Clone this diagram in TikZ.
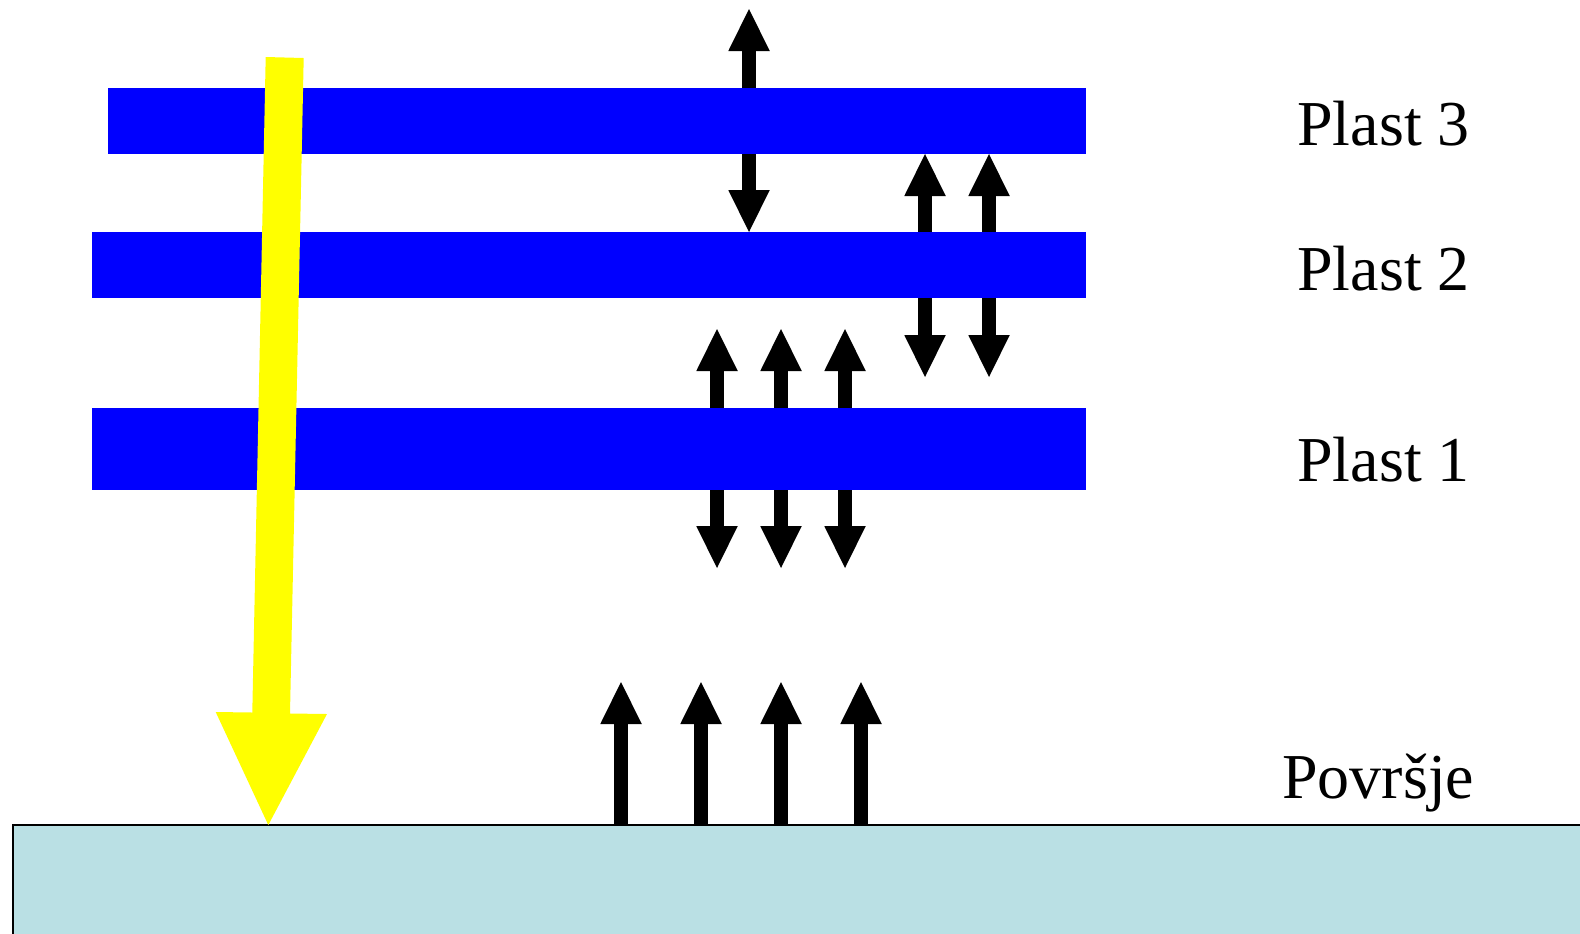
\documentclass[tikz,border=0pt]{standalone}
\usepackage{fontspec}
\setmainfont{Liberation Serif}
\usetikzlibrary{arrows.meta}
\definecolor{bandblue}{RGB}{0,0,255}
\definecolor{groundcol}{RGB}{186,224,228}
\definecolor{rayyellow}{RGB}{255,255,0}
\tikzset{
  band/.style={fill=bandblue, draw=none, inner sep=0pt, outer sep=0pt, anchor=north west},
  ground/.style={fill=groundcol, draw=black, line width=1.25pt, inner sep=0pt, outer sep=0pt, anchor=north west},
  flux/.style={line width=7pt, -{Triangle[length=21pt, width=20.75pt, line width=0pt]}},
  lbl/.style={inner sep=0pt, anchor=base west, font=\fontsize{32pt}{38pt}\selectfont}
}
\begin{document}
\begin{tikzpicture}[x=0.5pt, y=-0.5pt]
\useasboundingbox (0,0) rectangle (1580,933);
\clip (0,0) rectangle (1580,933);

% ground
\node[ground, minimum width=800pt, minimum height=80pt] (surf) at (13,825) {};

% atmospheric layers
\node[band, minimum width=489pt, minimum height=33pt] (b3) at (108,88) {};
\node[band, minimum width=497pt, minimum height=33pt] (b2) at (92,232) {};
\node[band, minimum width=497pt, minimum height=41pt] (b1) at (92,408) {};

% emission from layer 3
\draw[flux] (b3.north -| 749,0) -- ++(0,-79);
\draw[flux] (b3.south -| 749,0) -- (b2.north -| 749,0);

% emission from layer 2
\foreach \x in {925,989} {
  \draw[flux] (b2.north -| \x,0) -- (b3.south -| \x,0);
  \draw[flux] (b2.south -| \x,0) -- ++(0,79);
}

% emission from layer 1
\foreach \x in {717,781,845} {
  \draw[flux] (b1.north -| \x,0) -- ++(0,-79);
  \draw[flux] (b1.south -| \x,0) -- ++(0,78);
}

% emission from the surface
\foreach \x in {621,701,781,861} {
  \draw[flux] (surf.north -| \x,0) -- ++(0,-143);
}

% incoming solar radiation
\fill[rayyellow] (265.7,57) -- (303.7,58) -- (290,713.5) -- (327,714)
  -- (268.3,825) -- (215.7,712) -- (252.3,712.5) -- cycle;

% labels
\node[lbl] (l3) at (1297,145) {Plast 3};
\node[lbl] (l2) at (1297,290) {Plast 2};
\node[lbl] (l1) at (1297,481) {Plast 1};
\node[lbl] (ls) at (1282,798) {Površje};
\end{tikzpicture}
\end{document}
